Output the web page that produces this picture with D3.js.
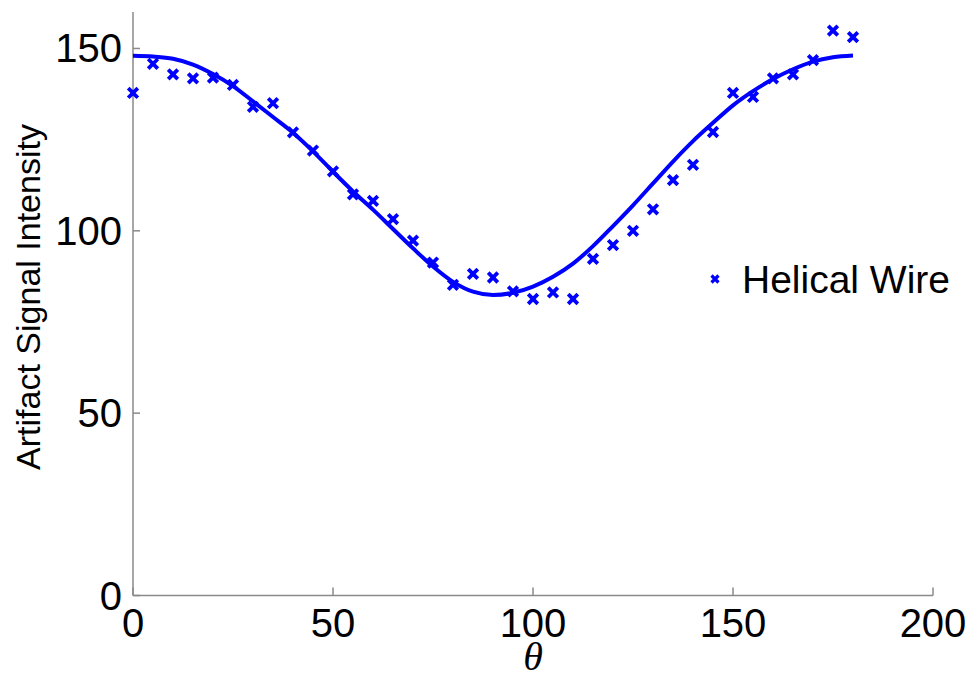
<!DOCTYPE html>
<html>
<head>
<meta charset="utf-8">
<script src="https://cdn.jsdelivr.net/npm/d3@7"></script>
<style>
  html, body { margin: 0; padding: 0; background: #fff; }
  svg { display: block; }
</style>
</head>
<body>
<svg id="chart" width="971" height="678"></svg>
<script>
// ---- data ----
const thetaMeasured = [0,5,10,15,20,25,30,35,40,45,50,55,60,65,70,75,80,85,90,95,100,105,110,115,120,125,130,135,140,145,150,155,160,165,170,175,180];
const intensityMeasured = [137.8,145.8,142.9,141.8,142,140,134,135,127,122,116.3,110,108.2,103.2,97.3,91.3,85.2,88.2,87.2,83.4,81.3,83.1,81.3,92.3,96.1,100,105.9,113.9,118.1,127.1,137.8,136.7,141.8,142.9,146.8,154.9,153.1];
const thetaFit = [0,5,10,15,20,25,30,35,40,45,50,55,60,65,70,75,80,85,90,95,100,105,110,115,120,125,130,135,140,145,150,155,160,165,170,175,180];
const intensityFit = [148,147.8,147.2,145.6,143,139.7,135.5,131.2,126.9,121.8,116.2,110.8,105.8,100.5,95.2,90.2,86,83.3,82.4,83,84.7,87.4,91,95.8,101.3,107,113,119,124.6,129.6,134.4,138.3,141.6,144.3,146.4,147.6,148.1];
const xTicks = [0,50,100,150,200];
const yTicks = [0,50,100,150];
const xLabel = "θ";
const yLabel = "Artifact Signal Intensity";
const legendLabel = "Helical Wire";

(function () {
// ---- layout ----
const svg = d3.select("#chart");
const L = 133, R = 933, T = 12, B = 595.5;
const x = d3.scaleLinear().domain([0, 200]).range([L, R]);
const y = d3.scaleLinear().domain([0, 160]).range([B, T]);
const blue = "#0000ff";
const axisColor = "#8a8a8a";
const tickFont = "'Liberation Sans', Arial, Helvetica, sans-serif";

// axes lines
svg.append("line").attr("x1", L).attr("x2", R).attr("y1", B).attr("y2", B)
  .attr("stroke", axisColor).attr("stroke-width", 1.5);
svg.append("line").attr("x1", L).attr("x2", L).attr("y1", T).attr("y2", B)
  .attr("stroke", axisColor).attr("stroke-width", 1.5);

// x ticks
const xg = svg.append("g");
xTicks.forEach(t => {
  xg.append("line").attr("x1", x(t)).attr("x2", x(t)).attr("y1", B).attr("y2", B - 8)
    .attr("stroke", axisColor).attr("stroke-width", 1.5);
  xg.append("text").attr("x", x(t)).attr("y", 637)
    .attr("text-anchor", "middle")
    .attr("font-family", tickFont).attr("font-size", 40)
    .attr("fill", "#000").text(t);
});
// y ticks
const yg = svg.append("g");
yTicks.forEach(t => {
  yg.append("line").attr("x1", L).attr("x2", L + 7).attr("y1", y(t)).attr("y2", y(t))
    .attr("stroke", axisColor).attr("stroke-width", 1.5);
  yg.append("text").attr("x", 122).attr("y", y(t) + 14)
    .attr("text-anchor", "end")
    .attr("font-family", tickFont).attr("font-size", 40)
    .attr("fill", "#000").text(t);
});

// axis labels
svg.append("text")
  .attr("transform", "translate(40,297) rotate(-90)")
  .attr("text-anchor", "middle")
  .attr("font-family", tickFont).attr("font-size", 34)
  .attr("fill", "#000").text(yLabel);
svg.append("text")
  .attr("x", (L + R) / 2).attr("y", 670)
  .attr("text-anchor", "middle")
  .attr("font-family", "'Liberation Serif', 'Times New Roman', serif")
  .attr("font-style", "italic").attr("font-size", 40)
  .attr("fill", "#000").text(xLabel);

// fit line
const line = d3.line().x((d, i) => x(thetaFit[i])).y(d => y(d)).curve(d3.curveMonotoneX);
svg.append("path").datum(intensityFit)
  .attr("d", line)
  .attr("fill", "none").attr("stroke", blue).attr("stroke-width", 4)
  .attr("stroke-linejoin", "round");

// x markers
function cross(g, cx, cy, r, w) {
  g.append("path")
    .attr("d", `M${cx - r},${cy - r}L${cx + r},${cy + r}M${cx - r},${cy + r}L${cx + r},${cy - r}`)
    .attr("stroke", blue).attr("stroke-width", w).attr("fill", "none");
}
const mg = svg.append("g");
intensityMeasured.forEach((v, i) => cross(mg, x(thetaMeasured[i]), y(v), 4.8, 3.8));

// legend
const lg = svg.append("g");
cross(lg, 715, 279, 3.5, 3.2);
lg.append("text").attr("x", 742).attr("y", 293)
  .attr("font-family", tickFont).attr("font-size", 39)
  .attr("fill", "#000").text(legendLabel);
})();
</script>
</body>
</html>
